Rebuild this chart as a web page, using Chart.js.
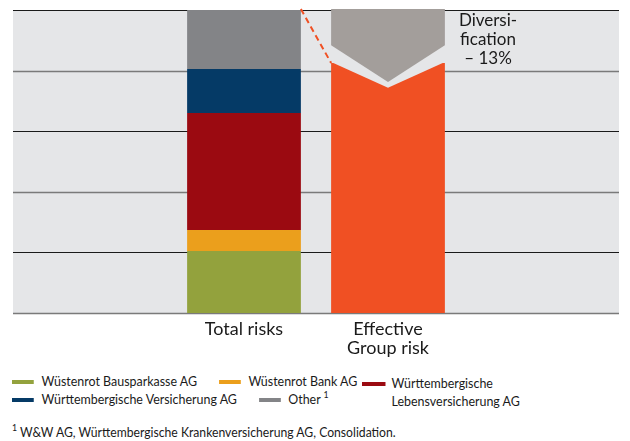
<!DOCTYPE html>
<html>
<head>
<meta charset="utf-8">
<script src="https://cdn.jsdelivr.net/npm/chart.js@4.4.1/dist/chart.umd.min.js"></script>
<style>
  html, body { margin:0; padding:0; background:#fff; }
  body { width:630px; height:441px; position:relative; overflow:hidden;
         font-family:Lato, "Noto Sans", sans-serif; color:#1a1a1a; }
  #wrap { position:absolute; left:0; top:0; width:630px; height:360px; }
  /* condensed look: scale horizontally, keep glyph height */
  .legend, #note { transform:scaleX(0.87); transform-origin:left top; }
  .legend { position:absolute; top:372px; font-size:14.3px; line-height:18px; }
  .row { display:flex; gap:25px; height:18px; }
  .item { display:inline-flex; align-items:flex-start; white-space:nowrap; }
  .sw { display:inline-block; width:25px; height:4px; margin:8px 9px 0 0; flex:none; }
  #legL { left:12px; }
  #legR { left:362px; }
  #legR .sw { width:27px; margin-right:7px; }
  #note { position:absolute; left:12px; top:423px; font-size:14px; line-height:17px; white-space:nowrap; }
  sup { font-size:10px; vertical-align:6px; line-height:0; }
</style>
</head>
<body>
<div id="wrap"><canvas id="c" width="630" height="360"></canvas></div>
<div class="legend" id="legL"></div>
<div class="legend" id="legR"></div>
<div id="note"><sup>1</sup> W&amp;W AG, Württembergische Krankenversicherung AG, Consolidation.</div>
<script>
// ── data ─────────────────────────────────────────────────────────
const categories = [["Total risks"], ["Effective", "Group risk"]];
const segLabels  = ["Wüstenrot Bausparkasse AG", "Wüstenrot Bank AG", "Württembergische Lebensversicherung AG",
                    "Württembergische Versicherung AG", "Other"];
const segValues  = [20.5, 6.9, 38.6, 14.5, 19.5];          // share of total risks, bottom → top
const segColors  = ["#93a23d", "#eb9f1c", "#9b0a11", "#053a66", "#838487"];
const effective  = [82.5, 74.3];                          // orange bar: shoulder, notch bottom
const diversif   = [100, 88.4, 76.2];                     // grey chevron: top, shoulder, notch
const divText    = ["Diversi-", "fication", "– 13%"];
const yTicks     = [0, 20, 40, 60, 80, 100];

const BG = "#e5e6e8", ORANGE = "#f05023", CHEV = "#a39e9b";
const FONT = "Lato, 'Noto Sans', sans-serif";

const datasets = segValues.map((v, i) => ({
  label: segLabels[i], data: [v, null], backgroundColor: segColors[i],
  borderWidth: 0, stack: "s",
}));
datasets.push({ label: "Effective Group risk", data: [null, effective[0]],
  backgroundColor: ORANGE, borderWidth: 0, stack: "s" });

// background + full-width grid lines from the y scale
const backdrop = {
  id: "backdrop",
  beforeDatasetsDraw(chart) {
    const { ctx, scales: { y } } = chart;
    const L = 13, R = 619;
    ctx.save();
    ctx.fillStyle = BG;
    ctx.fillRect(L, y.getPixelForValue(100), R - L, y.getPixelForValue(0) - y.getPixelForValue(100));
    yTicks.forEach((t, i) => {
      const py = Math.round(y.getPixelForValue(t));
      ctx.strokeStyle = i % 2 ? "#1a1a1a" : "#7a7a7a";
      ctx.lineWidth = i % 2 ? 1 : 1.6;
      ctx.beginPath(); ctx.moveTo(L, py + 0.5); ctx.lineTo(R, py + 0.5); ctx.stroke();
    });
    ctx.restore();
  },
  afterDatasetsDraw(chart) {
    const { ctx, scales: { y } } = chart;
    const tot = chart.getDatasetMeta(segValues.length - 1).data[0];
    const eff = chart.getDatasetMeta(segValues.length).data[1];
    const l = eff.x - eff.width / 2, r = eff.x + eff.width / 2, c = eff.x;
    ctx.save();
    // notch cut into the orange bar
    ctx.fillStyle = BG;
    ctx.beginPath();
    ctx.moveTo(l, y.getPixelForValue(effective[0]) - 1);
    ctx.lineTo(c, y.getPixelForValue(effective[1]));
    ctx.lineTo(r, y.getPixelForValue(effective[0]) - 1);
    ctx.closePath(); ctx.fill();
    // grey chevron
    ctx.fillStyle = CHEV;
    ctx.beginPath();
    ctx.moveTo(l, y.getPixelForValue(diversif[0]) - 1);
    ctx.lineTo(r, y.getPixelForValue(diversif[0]) - 1);
    ctx.lineTo(r, y.getPixelForValue(diversif[1]));
    ctx.lineTo(c, y.getPixelForValue(diversif[2]));
    ctx.lineTo(l, y.getPixelForValue(diversif[1]));
    ctx.closePath(); ctx.fill();
    // dashed connector
    ctx.strokeStyle = ORANGE; ctx.lineWidth = 2; ctx.setLineDash([6, 4]);
    ctx.beginPath();
    ctx.moveTo(tot.x + tot.width / 2, y.getPixelForValue(100) - 1);
    ctx.lineTo(l, y.getPixelForValue(effective[0]));
    ctx.stroke();
    ctx.setLineDash([]);
    // label
    ctx.fillStyle = "#1a1a1a"; ctx.font = "17px " + FONT;
    ctx.textAlign = "center"; ctx.textBaseline = "middle";
    divText.forEach((s, i) => ctx.fillText(s, 488, 21 + i * 19));
    ctx.restore();
  },
};

new Chart(document.getElementById("c"), {
  type: "bar",
  data: { labels: categories, datasets },
  plugins: [backdrop],
  options: {
    responsive: false, animation: false,
    layout: { padding: { left: 172, right: 170, top: 10, bottom: 0 } },
    datasets: { bar: { categoryPercentage: 0.79, barPercentage: 1 } },
    plugins: { legend: { display: false }, tooltip: { enabled: false } },
    scales: {
      x: { stacked: true, grid: { display: false }, border: { display: false },
           ticks: { color: "#1a1a1a", padding: -2, font: { family: FONT, size: 18, lineHeight: 1.08 } },
           afterFit: s => { s.height = 47; } },
      y: { stacked: true, min: 0, max: 100, display: false,
           afterBuildTicks: s => { s.ticks = yTicks.map(v => ({ value: v })); } },
    },
  },
});

// ── html legend ─────────────────────────────────────────────────
function item(i, text, sup) {
  return `<span class="item"><span class="sw" style="background:${segColors[i]}"></span>` +
         `<span>${text || segLabels[i]}${sup ? " <sup>1</sup>" : ""}</span></span>`;
}
document.getElementById("legL").innerHTML =
  `<div class="row">${item(0)}${item(1)}</div><div class="row">${item(3)}${item(4, null, true)}</div>`;
document.getElementById("legR").innerHTML = item(2, segLabels[2].replace(" Leben", "<br>Leben"));
</script>
</body>
</html>
